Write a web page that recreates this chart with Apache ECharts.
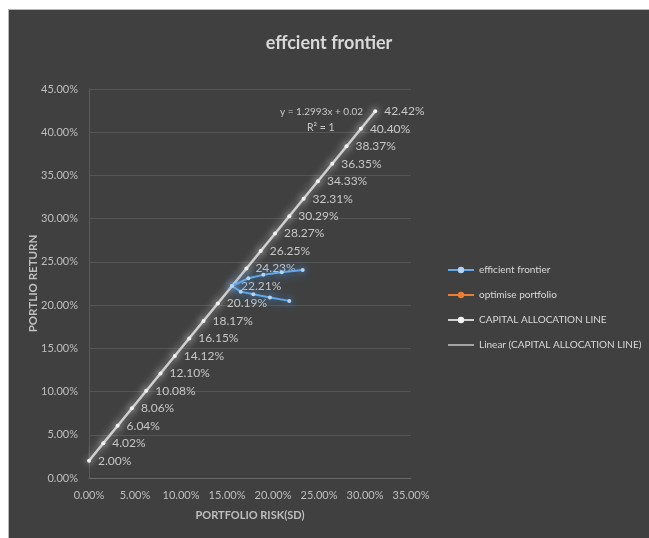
<!DOCTYPE html>
<html>
<head>
<meta charset="utf-8">
<script src="https://cdn.jsdelivr.net/npm/echarts@6/dist/echarts.min.js"></script>
<style>
  html, body { margin: 0; padding: 0; background: #ffffff; width: 649px; height: 538px; overflow: hidden; }
  #frame { position: absolute; left: 8px; top: 9px; width: 660px; height: 540px;
           border-left: 1px solid #b8b8b8; border-top: 1px solid #b8b8b8; background: #404040; }
  #chart { position: absolute; left: 0; top: 0; width: 640px; height: 528px; }
</style>
</head>
<body>
<div id="frame"><div id="chart"></div></div>
<script>
// Capital allocation line: portfolio risk (SD, %) and expected return (%)
const calRisk = [0, 1.555, 3.109, 4.664, 6.219, 7.773, 9.328, 10.891, 12.445, 14.000,
                 15.555, 17.109, 18.664, 20.219, 21.773, 23.328, 24.883, 26.437, 27.992, 29.554, 31.109];
const calReturn = [2.00, 4.02, 6.04, 8.06, 10.08, 12.10, 14.12, 16.15, 18.17, 20.19,
                   22.21, 24.23, 26.25, 28.27, 30.29, 32.31, 34.33, 36.35, 38.37, 40.40, 42.42];

// Efficient frontier of risky portfolios
const frontierRisk = [21.77, 19.67, 17.86, 16.49, 15.56, 17.32, 18.95, 20.95, 23.23];
const frontierReturn = [20.49, 20.87, 21.26, 21.56, 22.21, 23.11, 23.50, 23.81, 24.07];

// Optimal (tangency) portfolio
const optimalRisk = [15.56];
const optimalReturn = [22.21];

// Linear trendline through the capital allocation line
const trendRisk = [0, 31.109];
const trendReturn = [2.00, 42.42];
const trendSlope = 1.2993;
const trendIntercept = 0.02;

const seriesNames = ['efficient frontier', 'optimise portfolio', 'CAPITAL ALLOCATION LINE', 'Linear (CAPITAL ALLOCATION LINE)'];

const pairs = (xs, ys) => xs.map((x, i) => [x, ys[i]]);
const pct = v => Number(v).toFixed(2) + '%';
const FONT = 'Lato, Liberation Sans, Arial, sans-serif';

const chart = echarts.init(document.getElementById('chart'), null, { renderer: 'canvas' });
chart.setOption({
  backgroundColor: '#404040',
  animation: false,
  title: {
    text: 'effcient frontier',
    left: 'center',
    top: 19,
    textStyle: { color: '#d9d9d9', fontSize: 18, fontWeight: 'bold', fontFamily: FONT }
  },
  grid: { left: 80, right: 238, top: 79, bottom: 60 },
  legend: {
    orient: 'vertical',
    left: 438,
    top: 255,
    padding: 0,
    itemWidth: 26,
    itemHeight: 8,
    itemGap: 15,
    textStyle: { color: '#d9d9d9', fontSize: 10, fontFamily: FONT },
    data: [
      seriesNames[0],
      seriesNames[1],
      seriesNames[2],
      { name: seriesNames[3], itemStyle: { color: 'rgba(0,0,0,0)', borderWidth: 0 } }
    ]
  },
  xAxis: {
    type: 'value',
    min: 0, max: 35, interval: 5,
    name: 'PORTFOLIO RISK(SD)',
    nameLocation: 'middle',
    nameGap: 32,
    nameMoveOverlap: false,
    nameTextStyle: { color: '#bfbfbf', fontSize: 11, fontWeight: 'bold', fontFamily: FONT },
    axisLine: { show: true, lineStyle: { color: '#6a6a6a', width: 1 } },
    axisTick: { show: false },
    splitLine: { show: false },
    axisLabel: { color: '#bfbfbf', fontSize: 11, fontFamily: FONT, margin: 12, formatter: pct }
  },
  yAxis: {
    type: 'value',
    min: 0, max: 45, interval: 5,
    name: 'PORTLIO RETURN',
    nameLocation: 'middle',
    nameGap: 50,
    nameMoveOverlap: false,
    nameTextStyle: { color: '#bfbfbf', fontSize: 11.5, fontWeight: 'bold', fontFamily: FONT },
    axisLine: { show: true, lineStyle: { color: '#5a5a5a', width: 1 } },
    axisTick: { show: false },
    splitLine: { show: true, lineStyle: { color: '#555555', width: 1 } },
    axisLabel: { color: '#bfbfbf', fontSize: 11, fontFamily: FONT, margin: 11, formatter: pct }
  },
  series: [
    {
      name: seriesNames[0],
      type: 'line',
      z: 4,
      data: pairs(frontierRisk, frontierReturn),
      symbol: 'circle',
      symbolSize: 4,
      itemStyle: { color: '#b4d4f2', borderWidth: 0, shadowColor: 'rgba(80,160,240,1)', shadowBlur: 7 },
      lineStyle: { color: '#62a8ea', width: 2, shadowColor: 'rgba(70,150,235,1)', shadowBlur: 12 }
    },
    {
      name: seriesNames[1],
      type: 'line',
      z: 2,
      data: pairs(optimalRisk, optimalReturn),
      symbol: 'circle',
      symbolSize: 4,
      itemStyle: { color: '#ed7d31' },
      lineStyle: { color: '#ed7d31', width: 2 }
    },
    {
      name: seriesNames[2],
      type: 'line',
      z: 3,
      data: pairs(calRisk, calReturn),
      symbol: 'circle',
      symbolSize: 4,
      itemStyle: { color: '#f2f2f2', borderWidth: 0, shadowColor: 'rgba(255,255,255,0.9)', shadowBlur: 7 },
      lineStyle: { color: '#d0d0d0', width: 2, shadowColor: 'rgba(255,255,255,0.75)', shadowBlur: 8 },
      label: {
        show: true,
        position: 'right',
        distance: 7,
        color: '#c8c8c8',
        fontSize: 12,
        fontFamily: FONT,
        formatter: p => pct(p.value[1])
      }
    },
    {
      name: seriesNames[3],
      type: 'line',
      z: 2,
      data: pairs(trendRisk, trendReturn),
      symbol: 'none',
      itemStyle: { color: '#a6a6a6' },
      lineStyle: { color: '#a6a6a6', width: 2.5 }
    }
  ],
  graphic: [
    {
      type: 'text',
      left: 271, top: 97,
      style: {
        text: 'y = ' + trendSlope + 'x + ' + trendIntercept,
        fill: '#c8c8c8', fontSize: 10, fontFamily: FONT
      }
    },
    {
      type: 'text',
      left: 298, top: 112,
      style: { text: 'R² = 1', fill: '#c8c8c8', fontSize: 10.5, fontFamily: FONT }
    }
  ]
});
</script>
</body>
</html>
